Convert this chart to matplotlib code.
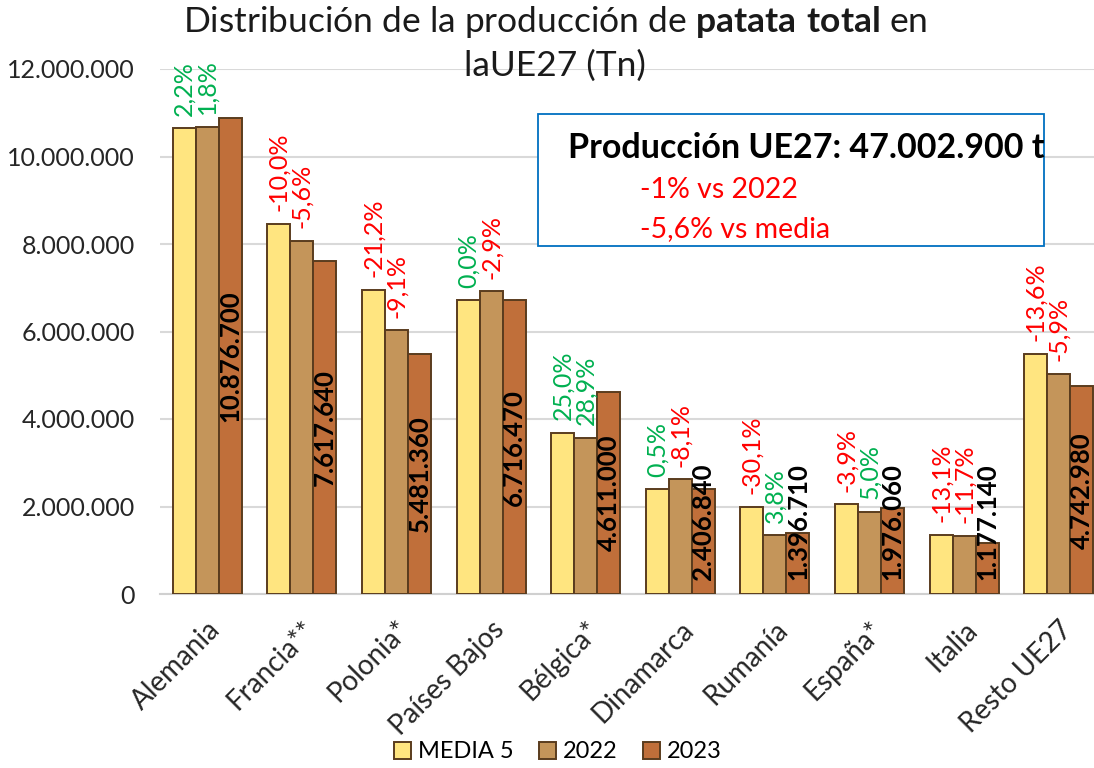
import numpy as np
import matplotlib
matplotlib.use("Agg")
import matplotlib.pyplot as plt
from matplotlib.patches import Rectangle
from matplotlib.ticker import FuncFormatter

plt.rcParams["font.family"] = ["Lato", "DejaVu Sans"]
plt.rcParams["mathtext.fontset"] = "custom"
plt.rcParams["mathtext.rm"] = "Lato"
plt.rcParams["mathtext.bf"] = "Lato:bold"

# --- datos (toneladas) ---
paises = ["Alemania", "Francia**", "Polonia*", "Países Bajos", "Bélgica*",
          "Dinamarca", "Rumanía", "España*", "Italia", "Resto UE27"]
media5 = [10642000, 8464000, 6956000, 6716000, 3689000, 2395000, 1998000, 2056000, 1355000, 5490000]
prod_2022 = [10684000, 8070000, 6029000, 6917000, 3577000, 2619000, 1346000, 1882000, 1333000, 5040000]
prod_2023 = [10876700, 7617640, 5481360, 6716470, 4611000, 2406840, 1396710, 1976060, 1177140, 4742980]
var_media = ["2,2%", "-10,0%", "-21,2%", "0,0%", "25,0%", "0,5%", "-30,1%", "-3,9%", "-13,1%", "-13,6%"]
var_2022 = ["1,8%", "-5,6%", "-9,1%", "-2,9%", "28,9%", "-8,1%", "3,8%", "5,0%", "-11,7%", "-5,9%"]
series = ["MEDIA 5", "2022", "2023"]
colores = ["#FFE580", "#C4955A", "#C06F3A"]

VERDE = "#00B050"
ROJO = "#FF0000"
BORDE = "#5A3C1E"


def miles(v, pos=None):
    return f"{int(round(v)):,}".replace(",", ".")


fig = plt.figure(figsize=(10.94, 7.68), dpi=100)
ax = fig.add_axes([160 / 1094, 174 / 768, 946 / 1094, 525 / 768])

x = np.arange(len(paises))
w = 0.243
datos = [media5, prod_2022, prod_2023]
for i, (vals, col, nom) in enumerate(zip(datos, colores, series)):
    ax.bar(x + (i - 1) * w, vals, width=w, color=col, edgecolor=BORDE,
           linewidth=1.4, label=nom, zorder=3)

# porcentajes sobre MEDIA 5 y 2022
for i in range(len(paises)):
    for j, etiqueta in enumerate([var_media[i], var_2022[i]]):
        col = ROJO if etiqueta.startswith("-") else VERDE
        ax.annotate(etiqueta, (x[i] + (j - 1) * w, datos[j][i]),
                    xytext=(0, 9), textcoords="offset points",
                    rotation=90, ha="center", va="bottom",
                    color=col, fontsize=18, zorder=5)

# valor 2023 dentro de la barra (centrado, con minimo para que quepa)
for i, v in enumerate(prod_2023):
    yc = max(v / 2, 1.65e6)
    ax.text(x[i] + w, yc, miles(v), rotation=90, ha="center", va="center",
            fontsize=18.5, fontweight="bold", color="black", zorder=6)

ax.set_ylim(0, 12e6)
ax.set_xlim(-0.5, 9.5)
ax.set_yticks(np.arange(0, 12e6 + 1, 2e6))
ax.yaxis.set_major_formatter(FuncFormatter(miles))
ax.grid(axis="y", color="#D9D9D9", linewidth=1.5, zorder=0)
ax.set_axisbelow(True)
for s in ["top", "right", "left"]:
    ax.spines[s].set_visible(False)
ax.spines["bottom"].set_color("#D0D0D0")
ax.spines["bottom"].set_linewidth(1.5)
ax.tick_params(axis="both", length=0, colors="#262626")
ax.tick_params(axis="y", pad=18, labelsize=18)
ax.set_xticks(x)
ax.set_xticklabels(paises, rotation=45, ha="right", rotation_mode="anchor",
                   fontsize=20)
ax.tick_params(axis="x", pad=16)

# titulo
fig.text(555 / 1094, 1 - 22 / 768,
         r"Distribución de la producción de $\mathbf{patata\ total}$ en",
         ha="center", va="center", fontsize=25.5, color="#1a1a1a")
fig.text(555 / 1094, 1 - 66 / 768, "laUE27 (Tn)",
         ha="center", va="center", fontsize=25.5, color="#1a1a1a")

# recuadro resumen
fig.patches.append(Rectangle((538 / 1094, 1 - 246 / 768), 506 / 1094, 132 / 768,
                             transform=fig.transFigure, facecolor="white",
                             edgecolor="#0070C0", linewidth=1.3, zorder=10))
fig.text(806 / 1094, 1 - 148 / 768, "Producción UE27: 47.002.900 t",
         ha="center", va="center", fontsize=24.5, fontweight="bold", zorder=11)
fig.text(640 / 1094, 1 - 190 / 768, "-1% vs 2022", ha="left", va="center",
         fontsize=20.5, color=ROJO, zorder=11)
fig.text(640 / 1094, 1 - 229 / 768, "-5,6% vs media", ha="left", va="center",
         fontsize=20.5, color=ROJO, zorder=11)

fig.legend(loc="center", bbox_to_anchor=(558 / 1094, 1 - 752 / 768), ncol=3,
           frameon=False, fontsize=17, handlelength=0.7, handleheight=0.7,
           handletextpad=0.3, columnspacing=1.1)

fig.savefig("out.png", dpi=100)
